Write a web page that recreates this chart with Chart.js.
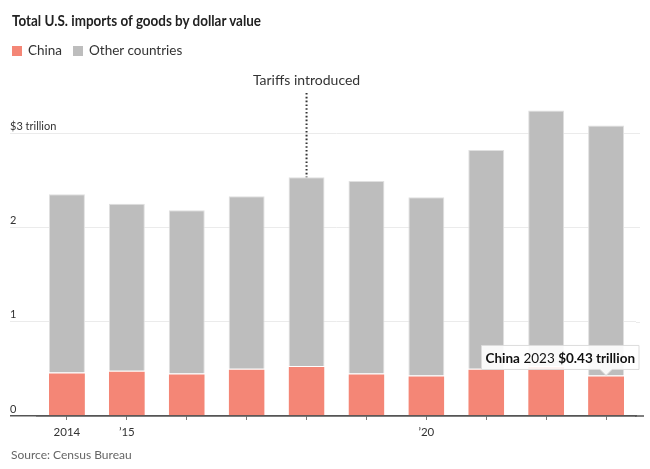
<!DOCTYPE html>
<html>
<head>
<meta charset="utf-8">
<script src="https://cdn.jsdelivr.net/npm/chart.js@4"></script>
<style>
  html, body { margin: 0; padding: 0; background: #fff; }
  #wrap { position: relative; width: 650px; height: 469px; overflow: hidden; font-family: Lato, "Open Sans", sans-serif; }
  #title { position: absolute; left: 12px; top: 11px; font-size: 15px; font-weight: bold; color: #222; white-space: nowrap; transform-origin: 0 0; }
  #legend { position: absolute; left: 12px; top: 42px; font-size: 13.5px; color: #333; white-space: nowrap; }
  #legend .sw { display: inline-block; width: 10px; height: 10px; vertical-align: -1px; margin-right: 6px; }
  #legend .item { margin-right: 11px; }
  #source { position: absolute; left: 11px; top: 447px; font-size: 12px; color: #666; white-space: nowrap; }
  #c { position: absolute; left: 0; top: 0; }
</style>
</head>
<body>
<div id="wrap">
  <canvas id="c" width="650" height="469"></canvas>
  <div id="title">Total U.S. imports of goods by dollar value</div>
  <div id="legend"><span class="item"><span class="sw" style="background:#f48676"></span>China</span><span class="item"><span class="sw" style="background:#bdbdbd"></span>Other countries</span></div>
  <div id="source">Source: Census Bureau</div>
</div>
<script>
const years = ['2014','2015','2016','2017','2018','2019','2020','2021','2022','2023'];
const tickLabels = ['2014','\u201915','','','','','\u201920','','',''];
const china = [0.46, 0.48, 0.45, 0.50, 0.53, 0.45, 0.43, 0.50, 0.53, 0.43];
const otherCountries = [1.89, 1.77, 1.73, 1.83, 2.00, 2.04, 1.89, 2.32, 2.71, 2.65];
const yTickValues = [0, 1, 2, 3];
const yTickLabels = ['0', '1', '2', '$3 trillion'];
const tariffYear = '2018';
const tariffText = 'Tariffs introduced';
const highlightYear = '2023';

const FONT = 'Lato, "Open Sans", sans-serif';
Chart.defaults.font.family = FONT;

// narrow the title to the reference's condensed width
(function () {
  const t = document.getElementById('title');
  const w = t.getBoundingClientRect().width;
  if (w > 0) t.style.transform = 'scaleX(' + (249 / w) + ')';
})();

const overlayPlugin = {
  id: 'overlay',
  beforeDatasetsDraw(chart) {
    const ctx = chart.ctx;
    const ys = chart.scales.y;
    const area = chart.chartArea;
    ctx.save();
    yTickValues.forEach((v, i) => {
      const y = ys.getPixelForValue(v);
      if (v !== 0) {
        ctx.strokeStyle = '#ebebeb';
        ctx.lineWidth = 1;
        ctx.beginPath();
        ctx.moveTo(area.right, Math.round(y) + 0.5);
        ctx.lineTo(640, Math.round(y) + 0.5);
        ctx.stroke();
      }
      ctx.fillStyle = '#333';
      ctx.font = '11px ' + FONT;
      ctx.textAlign = 'left';
      ctx.textBaseline = 'middle';
      ctx.fillText(yTickLabels[i], 10, y - 7);
    });
    ctx.restore();
  },
  afterDatasetsDraw(chart) {
    const ctx = chart.ctx;
    const ys = chart.scales.y;
    const area = chart.chartArea;
    // extend zero axis line to the right
    ctx.save();
    ctx.strokeStyle = '#555';
    ctx.lineWidth = 1.5;
    ctx.beginPath();
    const y0 = ys.getPixelForValue(0);
    ctx.moveTo(area.right - 1, y0);
    ctx.lineTo(644, y0);
    ctx.stroke();
    ctx.restore();

    // Tariff annotation
    const ti = years.indexOf(tariffYear);
    const topEl = chart.getDatasetMeta(1).data[ti];
    ctx.save();
    ctx.strokeStyle = '#333';
    ctx.lineWidth = 2;
    ctx.setLineDash([1.6, 2.2]);
    ctx.beginPath();
    ctx.moveTo(topEl.x, 93);
    ctx.lineTo(topEl.x, topEl.y);
    ctx.stroke();
    ctx.setLineDash([]);
    ctx.fillStyle = '#333';
    ctx.font = '14px ' + FONT;
    ctx.textAlign = 'center';
    ctx.textBaseline = 'middle';
    ctx.fillText(tariffText, topEl.x, 80);
    ctx.restore();

    // Tooltip-like label
    const hi = years.indexOf(highlightYear);
    const el = chart.getDatasetMeta(0).data[hi];
    const parts = [
      {t: 'China', f: 'bold 13.5px ' + FONT},
      {t: ' ' + highlightYear + ' ', f: '13.5px ' + FONT},
      {t: '$' + china[hi].toFixed(2) + ' trillion', f: 'bold 13.5px ' + FONT}
    ];
    ctx.save();
    let w = 0;
    parts.forEach(p => { ctx.font = p.f; p.w = ctx.measureText(p.t).width; w += p.w; });
    const padX = 4, bh = 24;
    const bw = w + padX * 2;
    let bx = Math.min(el.x - bw / 2, 639 - bw);
    const by = el.y - 6 - bh;
    ctx.fillStyle = 'rgba(255,255,255,0.9)';
    ctx.strokeStyle = '#dcdcdc';
    ctx.lineWidth = 1;
    ctx.beginPath();
    ctx.moveTo(bx, by);
    ctx.lineTo(bx + bw, by);
    ctx.lineTo(bx + bw, by + bh);
    ctx.lineTo(el.x + 6, by + bh);
    ctx.lineTo(el.x, el.y);
    ctx.lineTo(el.x - 6, by + bh);
    ctx.lineTo(bx, by + bh);
    ctx.closePath();
    ctx.fill();
    ctx.stroke();
    ctx.fillStyle = '#111';
    ctx.textBaseline = 'middle';
    ctx.textAlign = 'left';
    let x = bx + padX;
    parts.forEach(p => { ctx.font = p.f; ctx.fillText(p.t, x, by + bh / 2 + 1); x += p.w; });
    ctx.restore();
  }
};

new Chart(document.getElementById('c'), {
  type: 'bar',
  data: {
    labels: years,
    datasets: [
      { label: 'China', data: china, backgroundColor: '#f48676', borderColor: '#ffffff', borderWidth: {top: 1, left: 0, right: 0, bottom: 0}, borderSkipped: false, barPercentage: 0.6, categoryPercentage: 1 },
      { label: 'Other countries', data: otherCountries, backgroundColor: '#bdbdbd', borderColor: '#e0e0e0', borderWidth: {top: 1, left: 1, right: 1, bottom: 0}, borderSkipped: false, barPercentage: 0.6, categoryPercentage: 1 }
    ]
  },
  options: {
    responsive: false,
    animation: false,
    layout: { padding: { left: 10, right: 14, top: 100, bottom: 30 } },
    plugins: { legend: { display: false }, tooltip: { enabled: false }, title: { display: false } },
    scales: {
      x: {
        stacked: true,
        afterFit(s) { s.height = 23; },
        grid: { offset: false, drawOnChartArea: false, drawTicks: true, tickLength: 4, color: '#777' },
        border: { display: true, color: '#555', width: 1.5 },
        ticks: { autoSkip: false, maxRotation: 0, padding: 5, color: '#333', font: { size: 11.5 }, callback: (v, i) => tickLabels[i] }
      },
      y: {
        stacked: true,
        min: 0,
        max: 3.35,
        afterFit(s) { s.width = 27; },
        afterBuildTicks(s) { s.ticks = yTickValues.map(v => ({ value: v })); },
        grid: { color: c => (c.tick && c.tick.value === 0) ? '#555' : '#ebebeb', lineWidth: c => (c.tick && c.tick.value === 0) ? 1.5 : 1, tickLength: 27, drawTicks: true },
        border: { display: false },
        ticks: { display: false, stepSize: 1 }
      }
    }
  },
  plugins: [overlayPlugin]
});
</script>
</body>
</html>
